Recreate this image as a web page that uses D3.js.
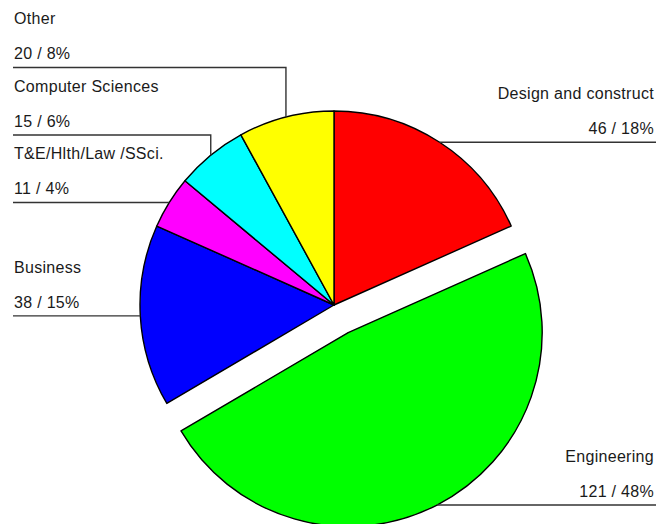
<!DOCTYPE html>
<html>
<head>
<meta charset="utf-8">
<script src="https://cdn.jsdelivr.net/npm/d3@7"></script>
<style>
  html, body { margin: 0; padding: 0; background: #ffffff; }
  svg { display: block; }
  text { font-family: "Liberation Sans", Arial, sans-serif; font-size: 16px; letter-spacing: 0.3px; fill: #1a1a1a; }
</style>
</head>
<body>
<script>
// Student enrolment by faculty
const categories = ["Design and construct", "Engineering", "Business", "T&E/Hlth/Law /SSci.", "Computer Sciences", "Other"];
const counts = [46, 121, 38, 11, 15, 20];
const colors = ["#ff0000", "#00ff00", "#0000ff", "#ff00ff", "#00ffff", "#ffff00"];
const exploded = ["Engineering"];

const width = 656, height = 524;
const cx = 334, cy = 305, radius = 194, explodeDist = 31;
const rowGap = 67.5;

const svg = d3.select("body").append("svg")
  .attr("width", width).attr("height", height);

const total = d3.sum(counts);
const data = categories.map((c, i) => ({ name: c, value: counts[i], color: colors[i] }));

const pie = d3.pie().sort(null).value(d => d.value);
const arcs = pie(data);
const arc = d3.arc().innerRadius(0).outerRadius(radius);

const offsetOf = a => {
  if (!exploded.includes(a.data.name)) return [0, 0];
  const m = (a.startAngle + a.endAngle) / 2;
  return [Math.sin(m) * explodeDist, -Math.cos(m) * explodeDist];
};

const g = svg.append("g").attr("transform", `translate(${cx},${cy})`);

g.selectAll("path.slice")
  .data(arcs)
  .join("path")
  .attr("class", "slice")
  .attr("transform", a => `translate(${offsetOf(a)})`)
  .attr("d", arc)
  .attr("fill", a => a.data.color)
  .attr("stroke", "#000")
  .attr("stroke-width", 1.4)
  .attr("stroke-linejoin", "round");

// anchor point on each slice's outer arc (absolute coordinates)
arcs.forEach(a => {
  const m = (a.startAngle + a.endAngle) / 2;
  const [ox, oy] = offsetOf(a);
  a.px = cx + ox + Math.sin(m) * radius;
  a.py = cy + oy - Math.cos(m) * radius;
  a.side = Math.sin(m) >= 0 ? "right" : "left";
  a.ly = a.py;
});

// stack left-hand labels so they never overlap
const left = arcs.filter(a => a.side === "left").sort((a, b) => b.py - a.py);
for (let i = 1; i < left.length; i++) {
  left[i].ly = Math.min(left[i].py, left[i - 1].ly - rowGap);
}

const fmtPct = v => Math.round(v / total * 100) + "%";

const labels = svg.append("g");
arcs.forEach(a => {
  const isLeft = a.side === "left";
  const x0 = isLeft ? 13 : width;
  const pts = isLeft
    ? [[x0, a.ly], [a.px, a.ly], [a.px, a.py]]
    : [[x0, a.ly], [a.px, a.ly], [a.px, a.py]];
  labels.append("path")
    .attr("d", d3.line()(pts))
    .attr("fill", "none")
    .attr("stroke", "#333")
    .attr("stroke-width", 1.4);

  const tx = isLeft ? 14 : 654;
  const anchor = isLeft ? "start" : "end";
  labels.append("text")
    .attr("x", tx).attr("y", a.ly - 43)
    .attr("text-anchor", anchor)
    .text(a.data.name);
  labels.append("text")
    .attr("x", tx).attr("y", a.ly - 8)
    .attr("text-anchor", anchor)
    .text(`${a.data.value} / ${fmtPct(a.data.value)}`);
});
</script>
</body>
</html>
